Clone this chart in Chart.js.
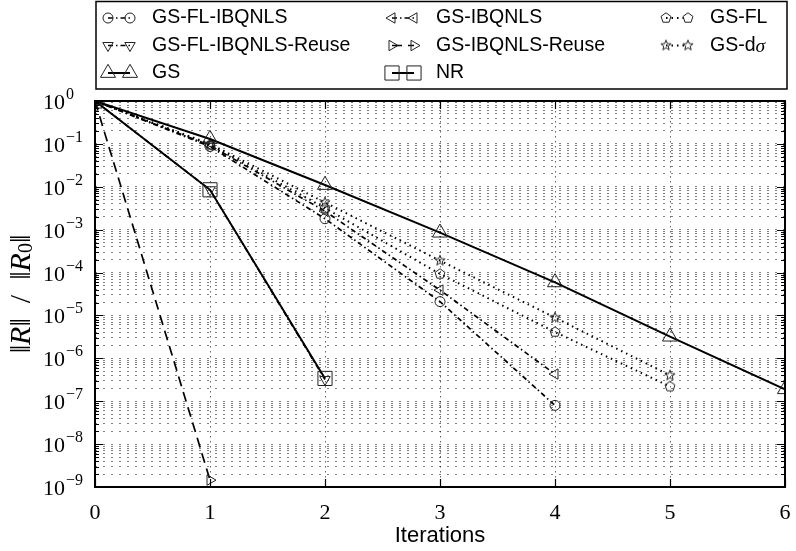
<!DOCTYPE html>
<html>
<head>
<meta charset="utf-8">
<script src="https://cdn.jsdelivr.net/npm/chart.js@4/dist/chart.umd.min.js"></script>
<style>
  html, body { margin: 0; padding: 0; background: #fff; }
</style>
</head>
<body>
<canvas id="chart" width="796" height="551"></canvas>
<script>
// iteration axis
const iterations = [0, 1, 2, 3, 4, 5, 6];
const xTickLabels = ['0', '1', '2', '3', '4', '5', '6'];
// exponents of the major y ticks (10^e)
const yExponents = [0, -1, -2, -3, -4, -5, -6, -7, -8, -9];

// ||R|| / ||R0|| per iteration
const gsFlIbqnls      = [1, 0.087, 1.8e-3, 2.1e-5, 8.0e-8];
const gsFlIbqnlsReuse = [1, 8.5e-3, 3.2e-7];
const gs              = [1, 0.13, 1.1e-2, 8.5e-4, 5.9e-5, 3.2e-6, 1.9e-7];
const gsIbqnls        = [1, 0.092, 2.7e-3, 3.9e-5, 4.3e-7];
const gsIbqnlsReuse   = [1, 1.45e-9];
const nr              = [1, 8.5e-3, 3.4e-7];
const gsFl            = [1, 0.095, 3.2e-3, 9.3e-5, 4.1e-6, 2.2e-7];
const gsDsigma        = [1, 0.1, 4.3e-3, 1.9e-4, 8.9e-6, 4.0e-7];

const SERIF = '"Liberation Serif", "DejaVu Serif", serif';
const SANS = '"Liberation Sans", Arial, sans-serif';

// hollow marker images for the shapes Chart.js does not have
function makeMarker(points) {
  const c = document.createElement('canvas');
  c.width = 14; c.height = 14;
  const g = c.getContext('2d');
  g.strokeStyle = '#222';
  g.lineWidth = 1;
  g.beginPath();
  points.forEach((p, i) => i ? g.lineTo(7 + p[0], 7 + p[1]) : g.moveTo(7 + p[0], 7 + p[1]));
  g.closePath();
  g.stroke();
  return c;
}
function starPoints(n, ro, ri) {
  const pts = [];
  for (let i = 0; i < n * 2; i++) {
    const r = (ri == null || i % 2 === 0) ? ro : ri;
    const a = -Math.PI / 2 + i * Math.PI / n;
    pts.push([r * Math.cos(a), r * Math.sin(a)]);
  }
  return ri == null ? pts.filter((p, i) => i % 2 === 0) : pts;
}
const pentagonImg = makeMarker(starPoints(5, 5.2));
const starImg = makeMarker(starPoints(5, 5.4, 2.3));

const dashDot = [5, 3, 1.5, 3];
const seriesDefs = [
  { label: 'GS-FL-IBQNLS', data: gsFlIbqnls, style: 'circle', radius: 5, rot: 0, dash: dashDot, width: 1.7 },
  { label: 'GS-FL-IBQNLS-Reuse', data: gsFlIbqnlsReuse, style: 'triangle', radius: 6, rot: 180, dash: dashDot, width: 1.7 },
  { label: 'GS', data: gs, style: 'triangle', radius: 8.7, rot: 0, dash: [], width: 2 },
  { label: 'GS-IBQNLS', data: gsIbqnls, style: 'triangle', radius: 6, rot: -90, dash: dashDot, width: 1.7 },
  { label: 'GS-IBQNLS-Reuse', data: gsIbqnlsReuse, style: 'triangle', radius: 6, rot: 90, dash: [10, 6], width: 1.7 },
  { label: 'NR', data: nr, style: 'rect', radius: 10, rot: 0, dash: [], width: 2 },
  { label: 'GS-FL', data: gsFl, style: pentagonImg, radius: 6, rot: 0, dash: [1.5, 4], width: 2 },
  { label: 'GS-d', sigma: true, data: gsDsigma, style: starImg, radius: 6, rot: 0, dash: [1.5, 4], width: 2 }
];

const datasets = seriesDefs.map(s => ({
  label: s.label,
  data: s.data.map((v, i) => ({ x: iterations[i], y: v })),
  borderColor: '#000',
  borderWidth: s.width,
  borderDash: s.dash,
  pointStyle: s.style,
  pointRadius: s.radius,
  pointRotation: s.rot,
  pointBorderColor: '#222',
  pointBorderWidth: 1,
  pointBackgroundColor: 'rgba(0,0,0,0)',
  tension: 0,
  fill: false
}));

// all log ticks: majors plus 2..9 minors in each decade
const yTickValues = [];
yExponents.forEach(e => {
  yTickValues.push(Math.pow(10, e));
  if (e < 0) for (let m = 2; m <= 9; m++) yTickValues.push(m * Math.pow(10, e));
});

const decorations = {
  id: 'decorations',
  afterDatasetsDraw(chart) {
    const { ctx, chartArea: a, scales: { x, y } } = chart;
    ctx.save();
    // inward ticks
    ctx.strokeStyle = '#000';
    ctx.lineWidth = 1.2;
    ctx.beginPath();
    yTickValues.forEach(v => {
      const py = Math.round(y.getPixelForValue(v)) + 0.5;
      const len = yExponents.some(e => Math.abs(Math.pow(10, e) - v) < v * 1e-6) ? 8 : 4;
      ctx.moveTo(a.left, py); ctx.lineTo(a.left + len, py);
      ctx.moveTo(a.right, py); ctx.lineTo(a.right - len, py);
    });
    iterations.forEach(v => {
      const px = Math.round(x.getPixelForValue(v)) + 0.5;
      ctx.moveTo(px, a.bottom); ctx.lineTo(px, a.bottom - 8);
      ctx.moveTo(px, a.top); ctx.lineTo(px, a.top + 8);
    });
    ctx.stroke();
    // frame
    ctx.lineWidth = 2;
    ctx.strokeRect(a.left, a.top, a.right - a.left, a.bottom - a.top);

    // y tick labels 10^e
    ctx.fillStyle = '#000';
    ctx.textAlign = 'left';
    ctx.textBaseline = 'alphabetic';
    yExponents.forEach(e => {
      const py = y.getPixelForValue(Math.pow(10, e));
      ctx.font = '22px ' + SERIF;
      ctx.fillText('10', 43, py + 8);
      const w = ctx.measureText('10').width;
      ctx.font = '16px ' + SERIF;
      ctx.fillText(String(e).replace('-', '\u2212'), 43 + w + 1, py - 2);
    });
    // x tick labels
    ctx.textAlign = 'center';
    ctx.textBaseline = 'middle';
    ctx.font = '22px ' + SERIF;
    iterations.forEach((v, i) => ctx.fillText(xTickLabels[i], x.getPixelForValue(v), 513));

    // axis titles
    ctx.font = '22px ' + SANS;
    ctx.fillText('Iterations', (a.left + a.right) / 2, 536);

    ctx.translate(22, (a.top + a.bottom) / 2);
    ctx.rotate(-Math.PI / 2);
    const big = '30px ' + SERIF;
    const parts = [
      { t: '\u2016', f: big, dy: 0 },
      { t: 'R', f: 'italic ' + big, dy: 0 },
      { t: '\u2016  /  \u2016', f: big, dy: 0 },
      { t: 'R', f: 'italic ' + big, dy: 0 },
      { t: '0', f: '20px ' + SERIF, dy: 5 },
      { t: '\u2016', f: big, dy: 0 }
    ];
    let total = 0;
    parts.forEach(p => { ctx.font = p.f; p.w = ctx.measureText(p.t).width; total += p.w; });
    let cx = -total / 2;
    ctx.textAlign = 'left';
    ctx.textBaseline = 'middle';
    parts.forEach(p => { ctx.font = p.f; ctx.fillText(p.t, cx, p.dy); cx += p.w; });
    ctx.restore();
  },
  afterDraw(chart) {
    const { ctx } = chart;
    const colX = [152, 436, 710];
    const rowY = [18, 45.5, 73];
    ctx.save();
    ctx.strokeStyle = '#000';
    ctx.lineWidth = 1.5;
    ctx.strokeRect(96, 1.5, 691, 87.5);
    seriesDefs.forEach((s, i) => {
      const tx = colX[Math.floor(i / 3)];
      const ty = rowY[i % 3];
      ctx.save();
      ctx.strokeStyle = '#000';
      ctx.lineWidth = s.width;
      ctx.setLineDash(s.dash);
      ctx.beginPath();
      ctx.moveTo(tx - 44, ty);
      ctx.lineTo(tx - 22, ty);
      ctx.stroke();
      ctx.restore();
      [tx - 44, tx - 22].forEach(mx => {
        ctx.save();
        ctx.strokeStyle = '#222';
        ctx.fillStyle = 'rgba(0,0,0,0)';
        ctx.lineWidth = 1;
        Chart.helpers.drawPoint(ctx, { pointStyle: s.style, radius: s.radius, rotation: s.rot, borderWidth: 1 }, mx, ty);
        ctx.restore();
      });
      ctx.fillStyle = '#000';
      ctx.textAlign = 'left';
      ctx.textBaseline = 'middle';
      ctx.font = '19.5px ' + SANS;
      ctx.fillText(s.label, tx, ty);
      if (s.sigma) {
        const w = ctx.measureText(s.label).width;
        ctx.font = 'italic 19.5px ' + SERIF;
        ctx.fillText('\u03c3', tx + w, ty + 1);
      }
    });
    ctx.restore();
  }
};

new Chart(document.getElementById('chart'), {
  type: 'line',
  data: { datasets },
  options: {
    responsive: false,
    animation: false,
    devicePixelRatio: 1,
    layout: { padding: { left: 95, right: 7, top: 101, bottom: 64 } },
    plugins: { legend: { display: false }, tooltip: { enabled: false } },
    scales: {
      x: {
        type: 'linear',
        min: 0,
        max: 6,
        ticks: { display: false, stepSize: 1 },
        afterFit: s => { s.height = 0; },
        grid: { color: 'rgba(0,0,0,0.6)', lineWidth: 1, drawTicks: false },
        border: { display: false, dash: [1.5, 3.5] }
      },
      y: {
        type: 'logarithmic',
        min: 1e-9,
        max: 1,
        ticks: { display: false },
        afterBuildTicks: s => { s.ticks = yTickValues.map(v => ({ value: v })); },
        afterFit: s => { s.width = 0; },
        grid: { color: 'rgba(0,0,0,0.5)', lineWidth: 1, drawTicks: false },
        border: { display: false, dash: [2, 6] }
      }
    }
  },
  plugins: [decorations]
});
</script>
</body>
</html>
